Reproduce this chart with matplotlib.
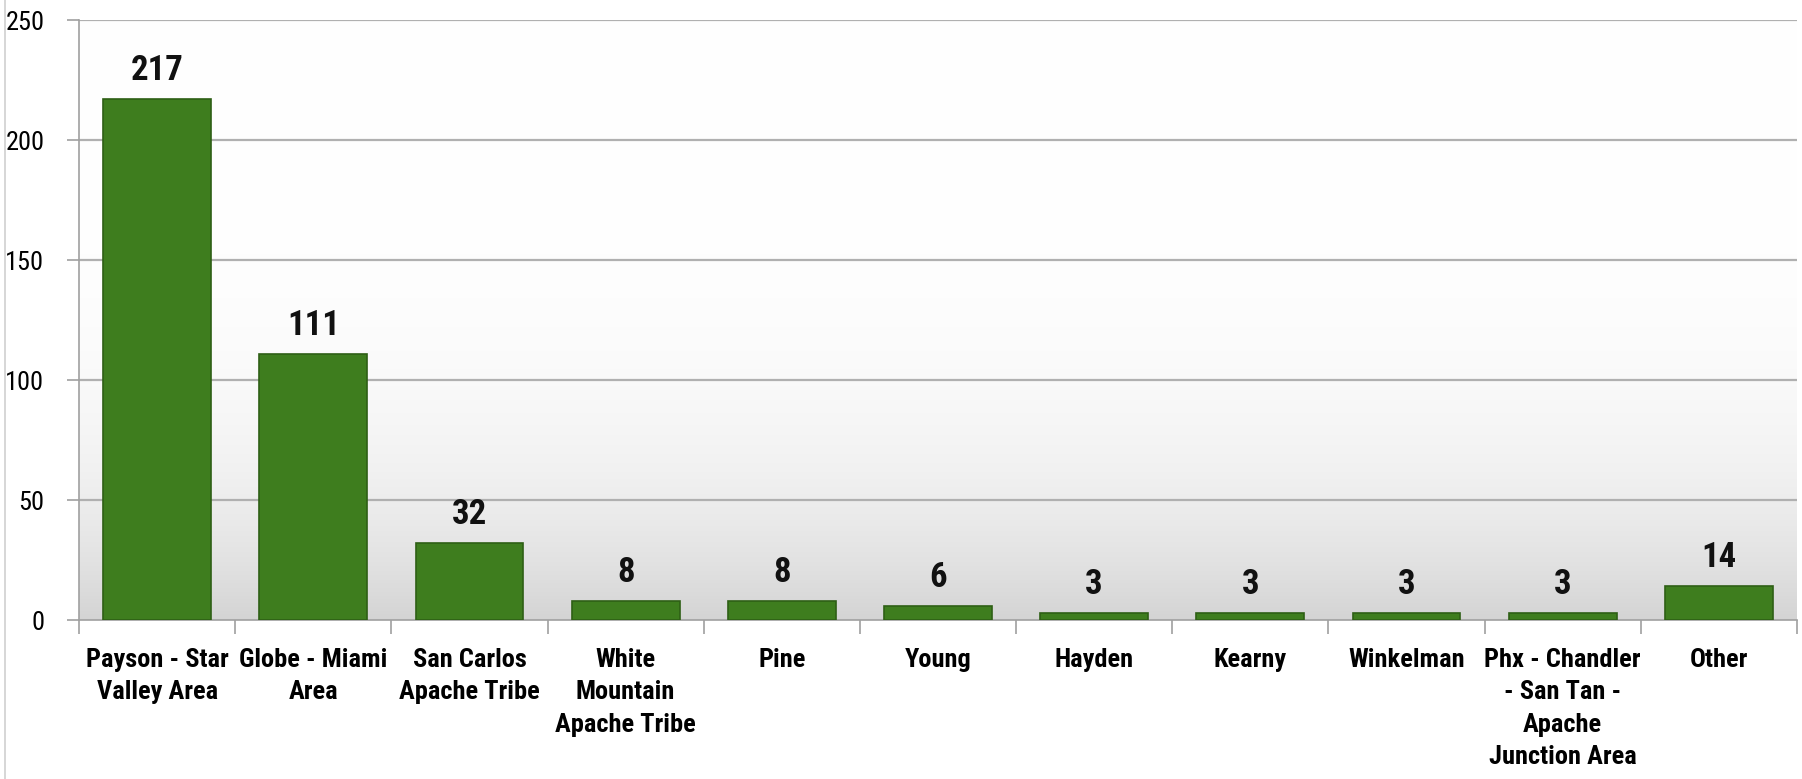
import matplotlib
matplotlib.use("Agg")
import matplotlib.pyplot as plt
import numpy as np
from matplotlib import font_manager

categories = ["Payson - Star\nValley Area", "Globe - Miami\nArea", "San Carlos\nApache Tribe",
              "White\nMountain\nApache Tribe", "Pine", "Young", "Hayden", "Kearny", "Winkelman",
              "Phx - Chandler\n- San Tan -\nApache\nJunction Area", "Other"]
values = [217, 111, 32, 8, 8, 6, 3, 3, 3, 3, 14]
yticks = [0, 50, 100, 150, 200, 250]

names = {f.name for f in font_manager.fontManager.ttflist}
fam = [n for n in ["Liberation Sans Narrow", "Roboto Condensed", "Open Sans Condensed", "Liberation Sans"] if n in names]
fam = fam + ["DejaVu Sans"]
plt.rcParams['font.family'] = fam

fig = plt.figure(figsize=(18.02, 7.79), dpi=100)
ax = fig.add_axes([79/1802, 1-620/779, (1797-79)/1802, 600/779])

n = len(categories)
x = np.arange(n)
ax.set_xlim(-0.5, n - 0.5)
ax.set_ylim(0, 250)

# background gradient
grad = np.linspace(0, 1, 256).reshape(-1, 1)
vals = 1 - 0.17 * grad**4
img = np.dstack([vals, vals, vals])
ax.imshow(img, extent=[-0.5, n - 0.5, 0, 250], aspect='auto', origin='upper', zorder=0)

for t in yticks[1:]:
    ax.axhline(t, color='#b0b0b0', lw=1.6, zorder=1)

bars = ax.bar(x, values, width=0.69, color='#3e7d1e', edgecolor='#2e5f15', linewidth=1.2, zorder=3)

for xi, v in zip(x, values):
    ax.text(xi, v + 5, str(v), ha='center', va='bottom', fontsize=25, fontweight='bold', color='#111111', zorder=4)

ax.set_yticks(yticks)
ax.set_yticklabels([str(t) for t in yticks], fontsize=19)
ax.set_xticks(x)
ax.set_xticklabels(categories, fontsize=19, fontweight='bold', linespacing=1.45)
ax.set_xticks(np.arange(n + 1) - 0.5, minor=True)
ax.tick_params(axis='x', which='major', length=0, pad=20)
ax.tick_params(axis='x', which='minor', length=10, color='#a0a0a0', width=1.2)
ax.tick_params(axis='y', length=9, color='#a0a0a0', width=1.2, pad=16)

for s in ['top', 'right']:
    ax.spines[s].set_visible(False)
ax.spines['left'].set_color('#a0a0a0')
ax.spines['bottom'].set_color('#a0a0a0')
ax.spines['left'].set_linewidth(1.2)
ax.spines['bottom'].set_linewidth(1.2)

fig.add_artist(plt.Line2D([5/1802, 5/1802], [0, 1], color='#d0d0d0', lw=1.2))

fig.savefig("out.png", dpi=100, facecolor='white')
